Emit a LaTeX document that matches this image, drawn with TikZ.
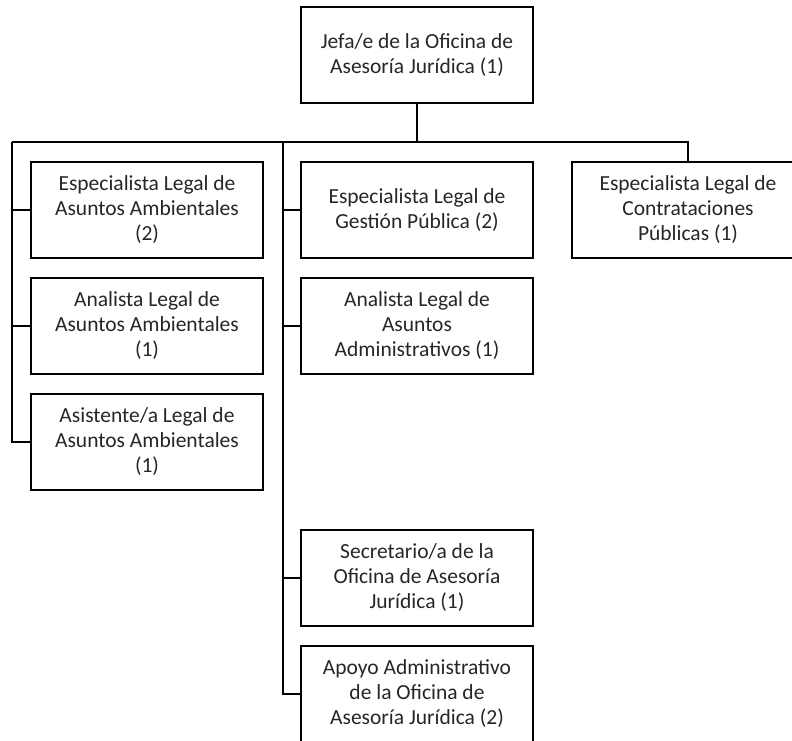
\documentclass[tikz,border=0pt]{standalone}
\usepackage{fontspec}
\setmainfont{Carlito}

\begin{document}
\begin{tikzpicture}[x=1pt,y=-1pt,
  puesto/.style={draw,line width=1.1pt,minimum width=232pt,minimum height=96pt,
    align=center,inner sep=0pt,font=\fontsize{21.5}{25}\selectfont,text=black!85},
  linea/.style={line width=1.6pt}]
\useasboundingbox (0,0) rectangle (792,740);
% jefe
\node[puesto] (jefe) at (417,55) {Jefa/e de la Oficina de\\Asesoría Jurídica (1)};
% ambientales
\node[puesto] (espAmb) at (147,210) {Especialista Legal de\\Asuntos Ambientales\\(2)};
\node[puesto] (anaAmb) at (147,326) {Analista Legal de\\Asuntos Ambientales\\(1)};
\node[puesto] (asiAmb) at (147,442) {Asistente/a Legal de\\Asuntos Ambientales\\(1)};
% gestion
\node[puesto] (espGes) at (417,210) {Especialista Legal de\\Gestión Pública (2)};
\node[puesto] (anaAdm) at (417,326) {Analista Legal de\\Asuntos\\Administrativos (1)};
\node[puesto] (secre) at (417,578) {Secretario/a de la\\Oficina de Asesoría\\Jurídica (1)};
\node[puesto] (apoyo) at (417,694) {Apoyo Administrativo\\de la Oficina de\\Asesoría Jurídica (2)};
% contrataciones
\node[puesto] (espCon) at (688,210) {Especialista Legal de\\Contrataciones\\Públicas (1)};
% barra
\coordinate (barL) at (12,142);
\coordinate (barM) at (283,142);
\coordinate (barR) at (688,142);
\draw[linea] (jefe.south)--(jefe.south |- barL);
\draw[linea] (barL)--(barR)--(espCon.north);
% rama izquierda
\draw[linea] (barL) |- (asiAmb.west);
\draw[linea] (barL |- espAmb.west)--(espAmb.west);
\draw[linea] (barL |- anaAmb.west)--(anaAmb.west);
% rama central
\draw[linea] (barM) |- (apoyo.west);
\draw[linea] (barM |- espGes.west)--(espGes.west);
\draw[linea] (barM |- anaAdm.west)--(anaAdm.west);
\draw[linea] (barM |- secre.west)--(secre.west);
\end{tikzpicture}
\end{document}
